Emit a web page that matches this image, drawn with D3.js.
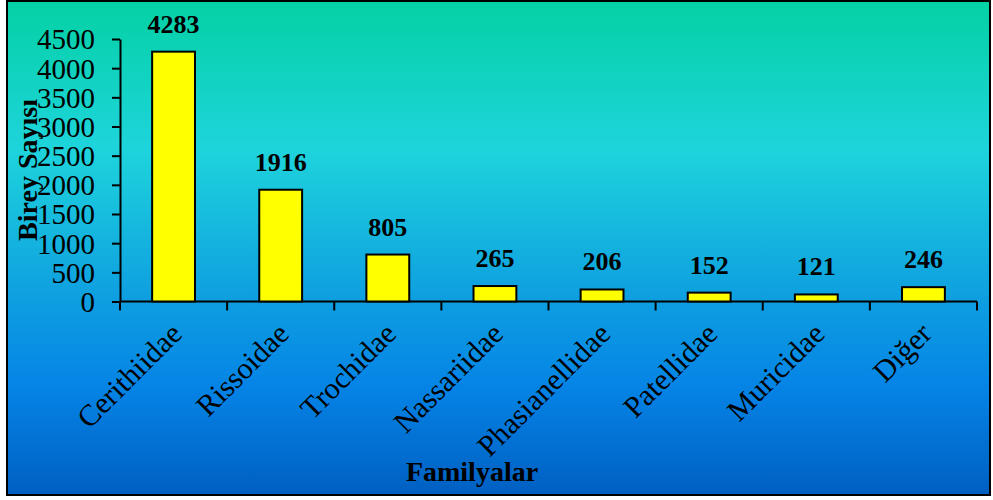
<!DOCTYPE html>
<html>
<head>
<meta charset="utf-8">
<script src="https://cdn.jsdelivr.net/npm/d3@7"></script>
<style>
  body { margin: 0; background: #fff; }
  text { font-family: "Liberation Serif", "Times New Roman", serif; }
</style>
</head>
<body>
<div id="chart"></div>
<script>
// veriler
const familyalar = ["Cerithiidae", "Rissoidae", "Trochidae", "Nassariidae", "Phasianellidae", "Patellidae", "Muricidae", "Diğer"];
const bireySayisi = [4283, 1916, 805, 265, 206, 152, 121, 246];
const yTicks = [0, 500, 1000, 1500, 2000, 2500, 3000, 3500, 4000, 4500];

const W = 993, H = 500;
const margin = {top: 39, right: 16, bottom: 198.5, left: 120};
const width = W - margin.left - margin.right,
      height = H - margin.top - margin.bottom;

const svg = d3.select("#chart").append("svg")
    .attr("width", W)
    .attr("height", H);

const grad = svg.append("defs").append("linearGradient")
    .attr("id", "bg")
    .attr("x1", 0).attr("y1", 0).attr("x2", 0).attr("y2", 1);
[[0, "#04d1a4"], [0.3, "#1ed4dc"], [0.6, "#0e9fe0"], [0.78, "#0584e6"], [1, "#005fc2"]]
  .forEach(function(s) { grad.append("stop").attr("offset", s[0]).attr("stop-color", s[1]); });

svg.append("rect")
    .attr("x", 7).attr("y", 1)
    .attr("width", 983).attr("height", 494)
    .attr("fill", "url(#bg)")
    .attr("stroke", "#000")
    .attr("stroke-width", 2);

const g = svg.append("g")
    .attr("transform", "translate(" + margin.left + "," + margin.top + ")");

const x = d3.scaleBand()
    .domain(familyalar)
    .range([0, width])
    .paddingInner(0.6)
    .paddingOuter(0.3);

const y = d3.scaleLinear()
    .domain([0, 4500])
    .range([height, 0]);

// y ekseni
const yAxis = g.append("g")
    .call(d3.axisLeft(y).tickValues(yTicks).tickFormat(d3.format("d")).tickSize(8).tickSizeOuter(0));
yAxis.select(".domain").attr("stroke-width", 2);
yAxis.selectAll(".tick line").attr("stroke-width", 2);
yAxis.selectAll(".tick text")
    .attr("font-family", "Liberation Serif, serif")
    .attr("font-size", 29)
    .attr("fill", "#000")
    .attr("x", -25)
    .attr("dy", "0.34em");

// x ekseni
const xAxisG = g.append("g")
    .attr("transform", "translate(0," + height + ")");
xAxisG.append("line")
    .attr("x1", 0).attr("x2", width)
    .attr("stroke", "#000").attr("stroke-width", 2);
xAxisG.selectAll(".xt")
    .data(d3.range(familyalar.length + 1))
  .enter().append("line")
    .attr("x1", function(i) { return i * width / familyalar.length; })
    .attr("x2", function(i) { return i * width / familyalar.length; })
    .attr("y1", 0).attr("y2", 9)
    .attr("stroke", "#000").attr("stroke-width", 2);

xAxisG.selectAll(".xl")
    .data(familyalar)
  .enter().append("text")
    .attr("transform", function(d) {
      return "translate(" + (x(d) + x.bandwidth() / 2 + 10) + ",34) rotate(-45)";
    })
    .attr("text-anchor", "end")
    .attr("font-size", 30)
    .attr("fill", "#000")
    .text(function(d) { return d; });

// çubuklar
g.selectAll(".bar")
    .data(bireySayisi)
  .enter().append("rect")
    .attr("class", "bar")
    .attr("x", function(d, i) { return x(familyalar[i]); })
    .attr("width", x.bandwidth())
    .attr("y", function(d) { return y(d); })
    .attr("height", function(d) { return height - y(d); })
    .attr("fill", "#ffff00")
    .attr("stroke", "#000")
    .attr("stroke-width", 2);

g.selectAll(".val")
    .data(bireySayisi)
  .enter().append("text")
    .attr("x", function(d, i) { return x(familyalar[i]) + x.bandwidth() / 2; })
    .attr("y", function(d) { return y(d) - 19; })
    .attr("text-anchor", "middle")
    .attr("font-size", 26)
    .attr("font-weight", "bold")
    .attr("fill", "#000")
    .text(function(d) { return d; });

// eksen başlıkları
svg.append("text")
    .attr("transform", "translate(37,170) rotate(-90)")
    .attr("text-anchor", "middle")
    .attr("font-size", 28)
    .attr("font-weight", "bold")
    .text("Birey Sayısı");

svg.append("text")
    .attr("x", 472)
    .attr("y", 481)
    .attr("text-anchor", "middle")
    .attr("font-size", 28)
    .attr("font-weight", "bold")
    .text("Familyalar");
</script>
</body>
</html>
